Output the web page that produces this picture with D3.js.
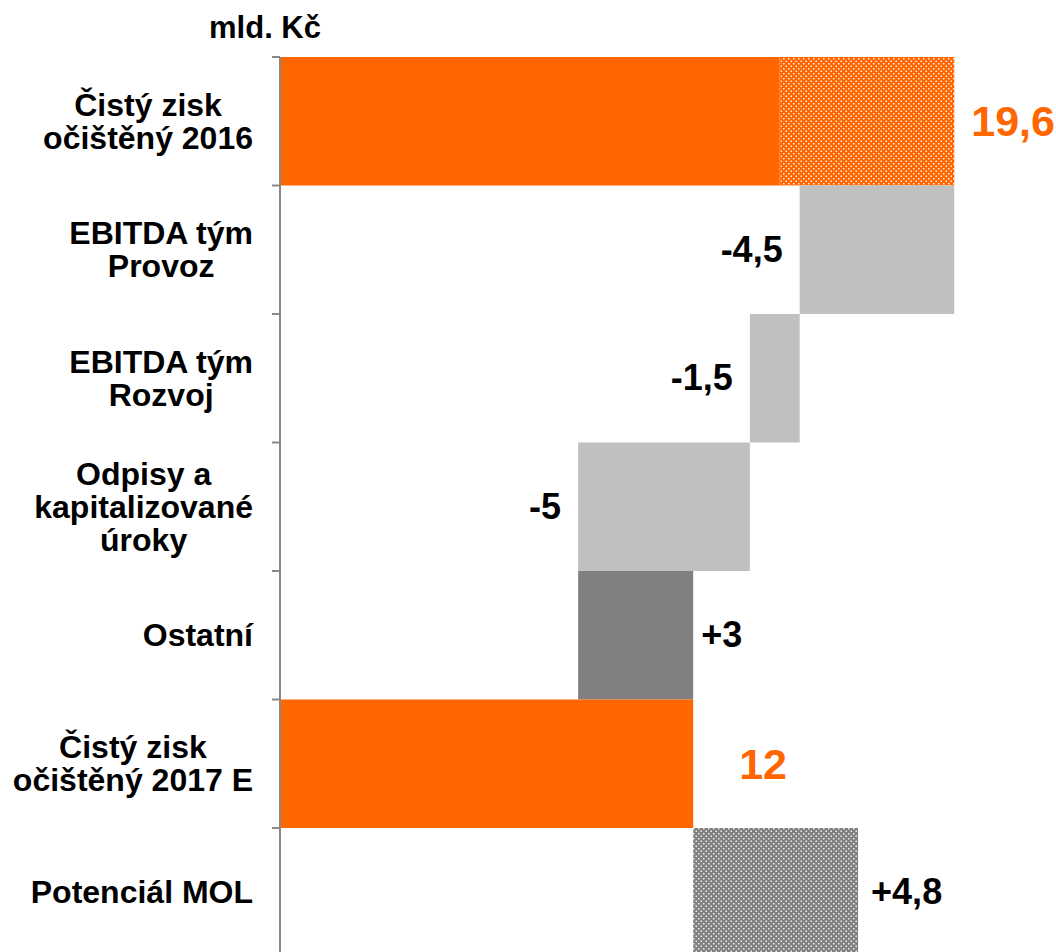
<!DOCTYPE html>
<html>
<head>
<meta charset="utf-8">
<script src="https://cdn.jsdelivr.net/npm/d3@7"></script>
<style>
  html, body { margin: 0; padding: 0; background: #fff; }
  svg { display: block; font-family: "Liberation Sans", Arial, sans-serif; font-weight: bold; }
</style>
</head>
<body>
<svg id="chart" width="1056" height="952"></svg>
<script>
// categories (each entry is the lines of the label)
const categories = [
  ["Čistý zisk", "očištěný 2016"],
  ["EBITDA tým", "Provoz"],
  ["EBITDA tým", "Rozvoj"],
  ["Odpisy a", "kapitalizované", "úroky"],
  ["Ostatní"],
  ["Čistý zisk", "očištěný 2017 E"],
  ["Potenciál MOL"]
];
// bar kind: total, neg, pos, potential
const kinds = ["total", "neg", "neg", "neg", "pos", "total", "potential"];
// bar lengths (mld. Kč)
const values = [19.6, -4.5, -1.45, -5.0, 3.35, 12.0, 4.8];
// part of the 2016 bar drawn dotted
const dottedPart = [5.1];
const valueLabels = ["19,6", "-4,5", "-1,5", "-5", "+3", "12", "+4,8"];
const unitLabel = "mld. Kč";

const svg = d3.select("#chart");
const orange = "#FF6600";

// - - - patterns - - -
const defs = svg.append("defs");
function dots(id, bg, dot) {
  const p = defs.append("pattern").attr("id", id).attr("patternUnits", "userSpaceOnUse")
    .attr("width", 5).attr("height", 5);
  p.append("rect").attr("width", 5).attr("height", 5).attr("fill", bg);
  p.append("rect").attr("x", 0.5).attr("y", 0.5).attr("width", 1.5).attr("height", 1.5).attr("fill", dot);
  p.append("rect").attr("x", 3).attr("y", 3).attr("width", 1.5).attr("height", 1.5).attr("fill", dot);
}
dots("dotOrange", orange, "#FFF0E6");
dots("dotGrey", "#808080", "#EDEDED");

// - - - scales - - -
const axisX = 280;
const x = d3.scaleLinear().domain([0, 20]).range([axisX + 1, axisX + 1 + 20 * 34.35]);
const y = d3.scaleBand().domain(d3.range(categories.length)).range([57, 57 + categories.length * 128.5]).padding(0);

// running totals -> start/end of every bar
let run = 0;
const bars = values.map((v, i) => {
  let from, to;
  if (kinds[i] === "total") { from = 0; to = v; run = v; }
  else { from = run; to = run + v; run = to; }
  return { i, from: Math.min(from, to), to: Math.max(from, to), kind: kinds[i], v };
});

const fills = { total: orange, neg: "#C0C0C0", pos: "#808080", potential: "url(#dotGrey)" };

const g = svg.append("g");
bars.forEach(b => {
  let solidTo = b.to;
  if (b.i === 0) solidTo = b.to - dottedPart[0];
  g.append("rect")
    .attr("x", x(b.from)).attr("y", y(b.i))
    .attr("width", x(solidTo) - x(b.from)).attr("height", y.bandwidth())
    .attr("fill", fills[b.kind]);
  if (b.i === 0) {
    g.append("rect")
      .attr("x", x(solidTo)).attr("y", y(b.i))
      .attr("width", x(b.to) - x(solidTo)).attr("height", y.bandwidth())
      .attr("fill", "url(#dotOrange)");
  }
});

// - - - axis - - -
svg.append("line").attr("x1", axisX).attr("x2", axisX).attr("y1", y(0)).attr("y2", 952)
  .attr("stroke", "#898989").attr("stroke-width", 2);
y.domain().forEach(i => {
  svg.append("line").attr("x1", axisX - 8).attr("x2", axisX).attr("y1", y(i)).attr("y2", y(i))
    .attr("stroke", "#898989").attr("stroke-width", 2);
});

// category labels, block right aligned, lines centred
const lineH = 33;
categories.forEach((lines, i) => {
  const t = svg.append("text").attr("font-size", 32).attr("fill", "#000");
  const cy = y(i) + y.bandwidth() / 2;
  const spans = lines.map((l, k) => t.append("tspan").text(l)
    .attr("y", cy + (k - (lines.length - 1) / 2) * lineH + 11));
  const maxW = d3.max(spans, s => s.node().getComputedTextLength());
  spans.forEach(s => s.attr("x", 253 - maxW / 2).attr("text-anchor", "middle"));
});

// value labels
bars.forEach(b => {
  const cy = y(b.i) + y.bandwidth() / 2;
  const t = svg.append("text").text(valueLabels[b.i]);
  if (b.kind === "total") {
    t.attr("font-size", 43).attr("fill", orange).attr("y", cy + 15)
      .attr("x", b.i === 0 ? x(b.to) + 17 : x(b.to) + 46);
  } else if (b.kind === "neg") {
    t.attr("font-size", 36).attr("fill", "#000").attr("y", cy + 12)
      .attr("x", x(b.from) - 17).attr("text-anchor", "end");
  } else {
    t.attr("font-size", 36).attr("fill", "#000").attr("y", cy + 12)
      .attr("x", x(b.to) + (b.kind === "pos" ? 8 : 13));
  }
});

// unit label
svg.append("text").text(unitLabel).attr("x", 265).attr("y", 38)
  .attr("font-size", 31).attr("text-anchor", "middle").attr("fill", "#000");
</script>
</body>
</html>
